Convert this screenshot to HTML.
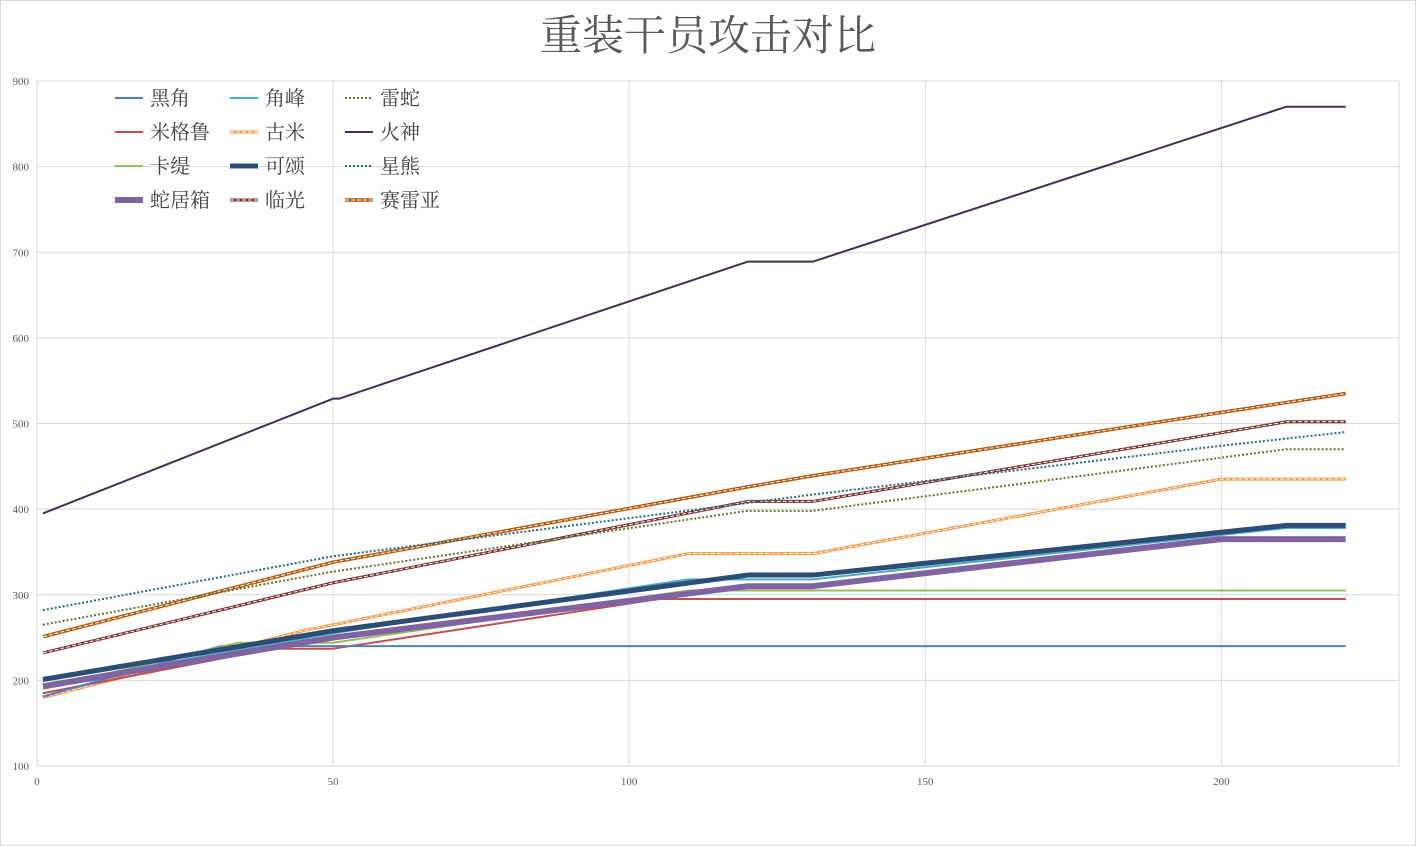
<!DOCTYPE html>
<html><head><meta charset="utf-8"><style>
body{margin:0;background:#fff}
#wrap{position:relative;width:1416px;height:846px;overflow:hidden}
svg text{font-family:"Liberation Serif","Noto Serif CJK SC",serif}
</style></head><body>
<div id="wrap">
<svg id="chart" width="1416" height="846">
<rect x="0.5" y="0.5" width="1415" height="845" fill="#fff" stroke="#d9d9d9"/>
<text x="708" y="50" text-anchor="middle" font-size="42" fill="#595959">重装干员攻击对比</text>
</svg>
</div>
<script>
const xTicks=[0,50,100,150,200];
const yTicks=[100,200,300,400,500,600,700,800,900];
const seriesNames=["黑角","米格鲁","卡缇","蛇居箱","角峰","古米","可颂","临光","雷蛇","火神","星熊","赛雷亚"];
const heijiao=[[1,181],[31,240],[221,240]];
const migelu=[[1,185],[33,228],[34,237],[50,237],[105,295],[221,295]];
const kati=[[1,190],[34,244],[50,244],[110,305],[221,305]];
const shejuxiang=[[1,193],[50,250],[120,310],[131,310],[200,365],[221,365]];
const jiaofeng=[[1,195],[50,255],[110,318],[131,318],[211,378],[221,378]];
const gumi=[[1,180],[45,258],[110,348],[131,348],[200,435],[221,435]];
const kesong=[[1,201],[50,258],[120,323],[131,323],[211,381],[221,381]];
const linguang=[[1,232],[50,314],[120,409],[131,409],[211,502],[221,502]];
const leishe=[[1,265],[50,327],[120,398],[131,398],[211,470],[221,470]];
const huoshen=[[1,395],[50,529],[51,529],[120,689],[131,689],[211,870],[221,870]];
const xingxiong=[[1,282],[50,345],[131,417],[200,474],[221,490]];
const saileiya=[[1,251],[50,338],[120,426],[131,439],[200,513],[221,535]];
const seriesData=[heijiao,migelu,kati,shejuxiang,jiaofeng,gumi,kesong,linguang,leishe,huoshen,xingxiong,saileiya];
const styles=[
 {c:"#4f81bd",w:2},{c:"#c0504d",w:2},{c:"#9bbb59",w:2},{c:"#8064a2",w:6},
 {c:"#4bacc6",w:2},{c:"#f79646",w:3,dash:true},{c:"#2c4d75",w:5},{c:"#772c2a",w:3,dash:true},
 {c:"#5f7530",w:2,dot:true},{c:"#403151",w:2},{c:"#276a7c",w:2,dot:true},{c:"#b65708",w:3.5,dash:true}];
const L=37,R=1399,T=81,B=766,X0=0,X1=230,Y0=100,Y1=900;
const sx=v=>L+(v-X0)/(X1-X0)*(R-L);
const sy=v=>B-(v-Y0)/(Y1-Y0)*(B-T);
const NS="http://www.w3.org/2000/svg";
const svg=document.getElementById("chart");
function mk(t,a,p){const e=document.createElementNS(NS,t);for(const k in a)e.setAttribute(k,a[k]);(p||svg).appendChild(e);return e;}
yTicks.forEach(v=>{
 const g=mk("line",{x1:L,x2:R,y1:sy(v),y2:sy(v),stroke:"#d9d9d9","stroke-width":1});
 
 
 const t=mk("text",{x:L-8,y:sy(v)+4,"text-anchor":"end","font-size":11,fill:"#595959"});
 
 
 t.textContent=v;
});
xTicks.forEach(v=>{
 const g=mk("line",{x1:sx(v),x2:sx(v),y1:T,y2:B,stroke:"#d9d9d9","stroke-width":1});
 
 
 const t=mk("text",{x:sx(v),y:B+19,"text-anchor":"middle","font-size":11,fill:"#595959"});
 
 
 t.textContent=v;
});
const rl=mk("line",{x1:R,x2:R,y1:T,y2:B,stroke:"#d9d9d9"});


function drawStroke(parent,pts,s,x1,y1){
 const isLine=x1!==undefined;
 const a=isLine?{x1:x1[0],y1:x1[1],x2:y1[0],y2:y1[1]}:{points:pts,fill:"none"};
 const base=Object.assign({stroke:s.c,"stroke-width":s.w,"stroke-linejoin":"round"},a);
 if(s.dot){base["stroke-dasharray"]="2,2";}
 mk(isLine?"line":"polyline",base,parent);
 if(s.dash){mk(isLine?"line":"polyline",Object.assign({stroke:"#fff","stroke-width":1,"stroke-dasharray":"4,2"},a),parent);}
}
const order=[9,11,7,10,8,5,1,0,2,4,3,6];
order.forEach(i=>{
 const g=mk("g",{});
 
 
 const pts=seriesData[i].map(p=>sx(p[0])+","+sy(p[1])).join(" ");
 drawStroke(g,pts,styles[i]);
});
seriesNames.forEach((n,i)=>{
 const col=Math.floor(i/4),row=i%4;
 const lx=115+col*115,ly=98+row*34;
 const g=mk("g",{});
 
 
 drawStroke(g,null,styles[i],[lx,ly],[lx+28,ly]);
 const t=mk("text",{x:lx+35,y:ly+7,"font-size":20,fill:"#404040"},g);
 t.textContent=n;
});
</script>
</body></html>
